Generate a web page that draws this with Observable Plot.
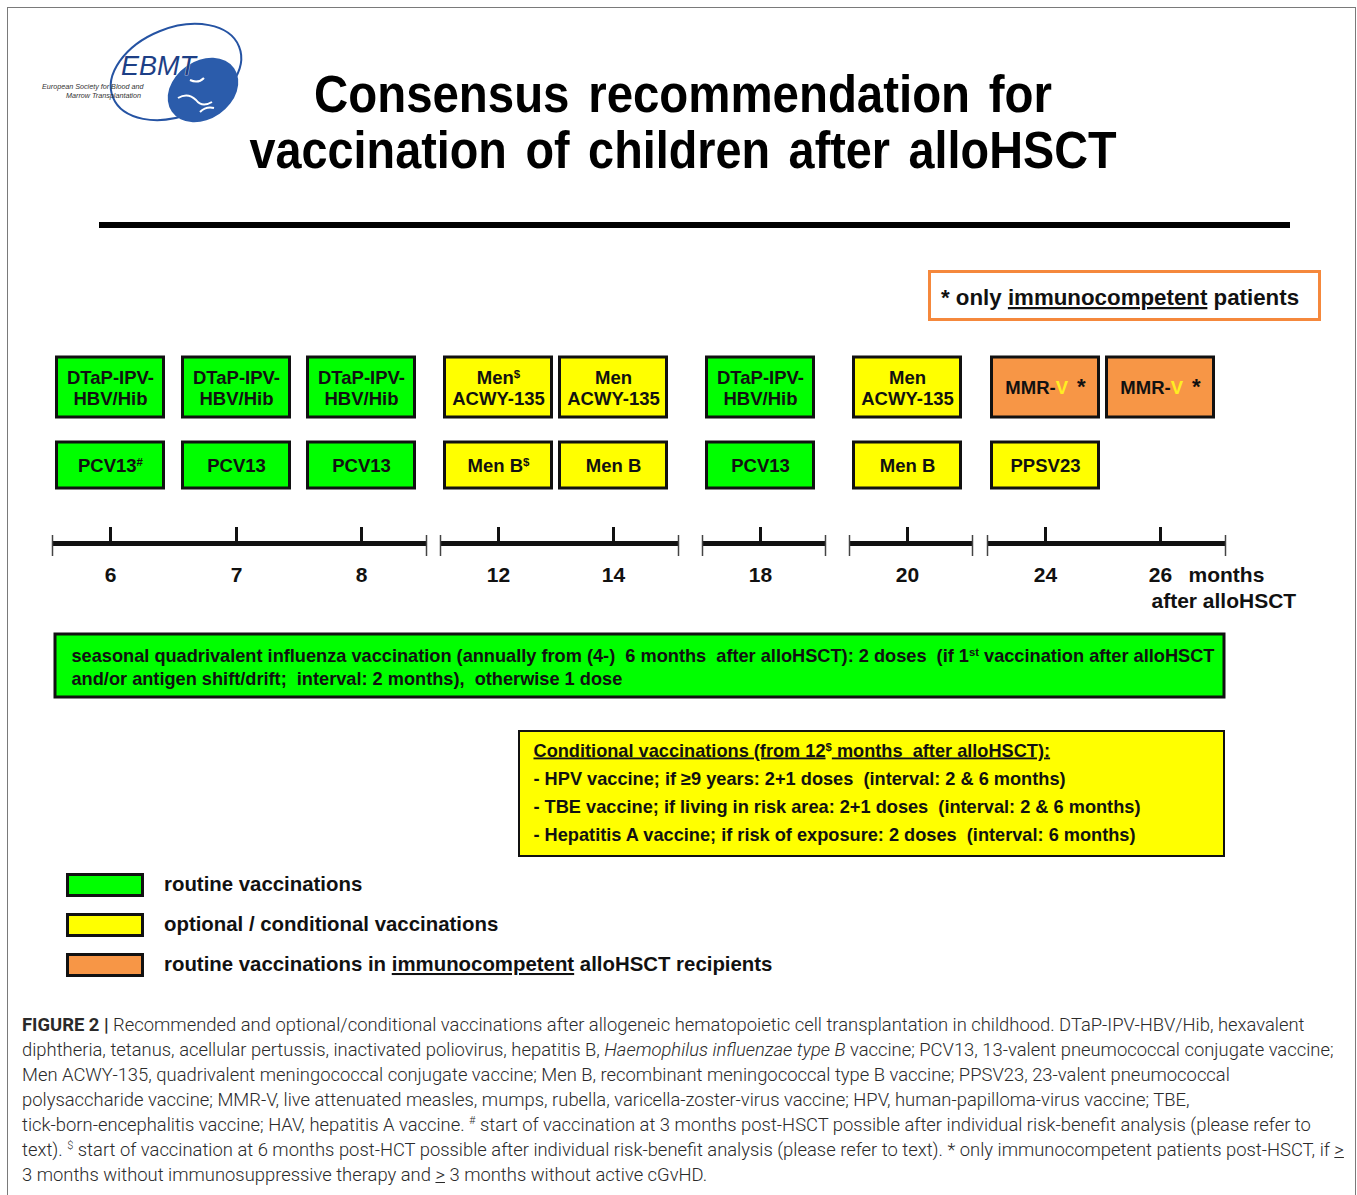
<!DOCTYPE html>
<html>
<head>
<meta charset="utf-8">
<script src="https://cdn.jsdelivr.net/npm/d3@7"></script>
<script src="https://cdn.jsdelivr.net/npm/@observablehq/plot@0.6"></script>
<style>
  html, body { margin: 0; padding: 0; background: #fff; }
  #page { position: relative; width: 1357px; height: 1195px; overflow: hidden; font-family: "Liberation Sans", Arial, sans-serif; }
  #frame { position: absolute; left: 7px; top: 7px; width: 1349px; height: 1300px; border: 1.5px solid #7a7a7a; box-sizing: border-box; }
  #chart, #decor { position: absolute; left: 0; top: 0; }
  #caption { position: absolute; left: 22px; top: 1012px; width: 1330px; font-family: Roboto, "Liberation Sans", sans-serif; font-weight: 300; font-size: 18.4px; line-height: 25px; color: #2a2a2a; white-space: nowrap; }
  #caption b { font-weight: 700; }
  #caption sup { font-size: 11px; line-height: 0; }
</style>
</head>
<body>
<div id="page">
  <div id="frame"></div>
  <div id="chart"></div>
  <svg id="decor" width="1357" height="1000"></svg>
  <div id="caption">
    <b>FIGURE 2 |</b> Recommended and optional/conditional vaccinations after allogeneic hematopoietic cell transplantation in childhood. DTaP-IPV-HBV/Hib, hexavalent<br>
    diphtheria, tetanus, acellular pertussis, inactivated poliovirus, hepatitis B, <i>Haemophilus influenzae type B</i> vaccine; PCV13, 13-valent pneumococcal conjugate vaccine;<br>
    Men ACWY-135, quadrivalent meningococcal conjugate vaccine; Men B, recombinant meningococcal type B vaccine; PPSV23, 23-valent pneumococcal<br>
    polysaccharide vaccine; MMR-V, live attenuated measles, mumps, rubella, varicella-zoster-virus vaccine; HPV, human-papilloma-virus vaccine; TBE,<br>
    tick-born-encephalitis vaccine; HAV, hepatitis A vaccine. <sup>#</sup> start of vaccination at 3 months post-HSCT possible after individual risk-benefit analysis (please refer to<br>
    text). <sup>$</sup> start of vaccination at 6 months post-HCT possible after individual risk-benefit analysis (please refer to text). * only immunocompetent patients post-HSCT, if <u>&gt;</u><br>
    3 months without immunosuppressive therapy and <u>&gt;</u> 3 months without active cGvHD.
  </div>
</div>
<script>
// ---------------- DATA ----------------
const months = [6, 7, 8, 12, 14, 18, 20, 24, 26];
const timelineGroups = [[6, 8], [12, 14], [18, 18], [20, 20], [24, 26]];

const vaccineMonth = [6, 7, 8, 12, 14, 18, 20, 24, 26,
                      6, 7, 8, 12, 14, 18, 20, 24];
const vaccineRow = ["upper", "upper", "upper", "upper", "upper", "upper", "upper", "upper", "upper",
                    "lower", "lower", "lower", "lower", "lower", "lower", "lower", "lower"];
const vaccineLabel = [
  "DTaP-IPV-\nHBV/Hib", "DTaP-IPV-\nHBV/Hib", "DTaP-IPV-\nHBV/Hib",
  "Men^{$}\nACWY-135", "Men\nACWY-135", "DTaP-IPV-\nHBV/Hib", "Men\nACWY-135",
  "MMR-~{V}!{*}", "MMR-~{V}!{*}",
  "PCV13^{#}", "PCV13", "PCV13", "Men B^{$}", "Men B", "PCV13", "Men B", "PPSV23"
];
const vaccineCategory = [
  "routine", "routine", "routine", "optional", "optional", "routine", "optional", "immunocompetent", "immunocompetent",
  "routine", "routine", "routine", "optional", "optional", "routine", "optional", "optional"
];

const categories = ["routine", "optional", "immunocompetent"];
const categoryLabels = [
  "routine vaccinations",
  "optional / conditional vaccinations",
  "routine vaccinations in _{immunocompetent}  alloHSCT recipients"
];
const categoryColors = ["#00ff00", "#ffff00", "#f79646"];

const influenzaLines = [
  "seasonal quadrivalent influenza vaccination (annually from (4-)  6 months  after alloHSCT): 2 doses  (if 1^{st} vaccination after alloHSCT",
  "and/or antigen shift/drift;  interval: 2 months),  otherwise 1 dose"
];
const conditionalHeading = "_{Conditional vaccinations (from 12}^{$}_{ months  after alloHSCT):}";
const conditionalItems = [
  "- HPV vaccine; if \u22659 years: 2+1 doses  (interval: 2 & 6 months)",
  "- TBE vaccine; if living in risk area: 2+1 doses  (interval: 2 & 6 months)",
  "- Hepatitis A vaccine; if risk of exposure: 2 doses  (interval: 6 months)"
];
const timelineUnit = ["months", "after alloHSCT"];

// ---------------- LAYOUT (positions & styles) ----------------
const L = {
  monthX: [110, 236, 361, 498, 613, 760, 907, 1045, 1160],
  rows: {upper: [357, 417], lower: [442, 488]},
  boxHalf: 53.5,
  axisY: 543, tickTop: 527, capTop: 535, capBottom: 556, labelY: 581,
  segLeft: 58, segRight: 65,
  fluY: [634, 697], fluLeft: 55, fluRight: 64, fluText: [661, 684], fluDx: 39,
  condY: [731, 856], condLeft: -21, condTextDx: 35, condBase: 756, condStep: 28,
  ink: "#111"
};

const vaccines = vaccineMonth.map((m, i) => ({
  month: m, row: vaccineRow[i], label: vaccineLabel[i], category: vaccineCategory[i]
}));
const first = months[0], last = months[months.length - 1];
const bold = {fontWeight: "bold", fill: L.ink};

const chart = Plot.plot({
  width: 1357,
  height: 1000,
  margin: 0,
  style: {background: "transparent", fontFamily: "'Liberation Sans', Arial, sans-serif"},
  x: {type: "linear", domain: months, range: L.monthX, axis: null},
  y: {type: "identity", axis: null},
  color: {type: "ordinal", domain: categories, range: categoryColors},
  marks: [
    // vaccine boxes
    Plot.rect(vaccines, {
      x1: "month", x2: "month",
      y1: d => L.rows[d.row][0], y2: d => L.rows[d.row][1],
      insetLeft: -L.boxHalf, insetRight: -L.boxHalf,
      fill: "category", stroke: L.ink, strokeWidth: 3
    }),
    Plot.text(vaccines, {
      x: "month", y: d => (L.rows[d.row][0] + L.rows[d.row][1]) / 2,
      text: "label", fontSize: 18.5, lineHeight: 1.17, ...bold
    }),
    // timeline segments
    Plot.ruleY(timelineGroups, {
      x1: d => d[0], x2: d => d[1], y: L.axisY,
      insetLeft: -L.segLeft, insetRight: -L.segRight, stroke: L.ink, strokeWidth: 5
    }),
    Plot.ruleX(timelineGroups, {x: d => d[0], dx: -L.segLeft, y1: L.capTop, y2: L.capBottom, stroke: "#444", strokeWidth: 1.5}),
    Plot.ruleX(timelineGroups, {x: d => d[1], dx: L.segRight, y1: L.capTop, y2: L.capBottom, stroke: "#444", strokeWidth: 1.5}),
    Plot.ruleX(months, {x: d => d, y1: L.tickTop, y2: L.axisY, stroke: L.ink, strokeWidth: 3}),
    Plot.text(months, {x: d => d, y: L.labelY, text: d => String(d), fontSize: 21, lineAnchor: "bottom", ...bold}),
    Plot.text([timelineUnit[0]], {x: () => last, y: L.labelY, text: d => d, dx: 28, textAnchor: "start", fontSize: 21, lineAnchor: "bottom", ...bold}),
    Plot.text([timelineUnit[1]], {x: () => last, y: L.labelY + 26, text: d => d, dx: -9, textAnchor: "start", fontSize: 21, lineAnchor: "bottom", ...bold}),
    // influenza box
    Plot.rect([{from: first, to: last, category: "routine"}], {
      x1: "from", x2: "to", y1: L.fluY[0], y2: L.fluY[1],
      insetLeft: -L.fluLeft, insetRight: -L.fluRight, fill: "category", stroke: L.ink, strokeWidth: 3
    }),
    Plot.text(influenzaLines, {
      x: () => first, y: (d, i) => L.fluText[i], text: d => d, dx: -L.fluDx,
      textAnchor: "start", lineAnchor: "bottom", fontSize: 18.2, ...bold
    }),
    // conditional box
    Plot.rect([{from: 12, to: last, category: "optional"}], {
      x1: "from", x2: "to", y1: L.condY[0], y2: L.condY[1],
      insetLeft: -L.condLeft, insetRight: -L.fluRight, fill: "category", stroke: L.ink, strokeWidth: 2
    }),
    Plot.text([conditionalHeading, ...conditionalItems], {
      x: () => 12, y: (d, i) => L.condBase + i * L.condStep, text: d => d, dx: L.condTextDx,
      textAnchor: "start", lineAnchor: "bottom", fontSize: 18.2, ...bold
    })
  ]
});
document.getElementById("chart").appendChild(chart);

// rich-text markup: ^{sup}  ~{yellow}  !{asterisk}  _{underline}
const SVGNS = "http://www.w3.org/2000/svg";
function rich(node) {
  const s = node.textContent;
  if (!/[\^~!_]\{/.test(s)) return;
  while (node.firstChild) node.removeChild(node.firstChild);
  const re = /([\^~!_])\{([^}]*)\}/g;
  let lastIdx = 0, m;
  const add = (txt, kind) => {
    const t = document.createElementNS(SVGNS, "tspan");
    t.textContent = txt;
    if (kind === "^") { t.setAttribute("font-size", "0.62em"); t.setAttribute("baseline-shift", "super"); }
    if (kind === "~") { t.setAttribute("fill", "#ffee22"); }
    if (kind === "!") { t.setAttribute("font-size", "1.2em"); t.setAttribute("dx", "9"); }
    if (kind === "_") { t.setAttribute("style", "text-decoration: underline"); }
    node.appendChild(t);
  };
  while ((m = re.exec(s))) {
    if (m.index > lastIdx) add(s.slice(lastIdx, m.index));
    add(m[2], m[1]);
    lastIdx = re.lastIndex;
  }
  if (lastIdx < s.length) add(s.slice(lastIdx));
}
function richAll(root) {
  root.querySelectorAll("text").forEach(t => {
    const spans = t.querySelectorAll(":scope > tspan");
    if (spans.length) spans.forEach(rich); else rich(t);
  });
}
richAll(chart);

// ---------------- decoration: logo, title, rule, note, legend ----------------
const decor = d3.select("#decor");
// logo
const logo = decor.append("g");
logo.append("ellipse").attr("cx", 176).attr("cy", 72).attr("rx", 68).attr("ry", 44)
  .attr("transform", "rotate(-22 176 72)").attr("fill", "none").attr("stroke", "#2553a3").attr("stroke-width", 2);
logo.append("ellipse").attr("cx", 203).attr("cy", 90).attr("rx", 38).attr("ry", 29)
  .attr("transform", "rotate(-35 203 90)").attr("fill", "#2b5cab");
logo.append("path").attr("d", "M178 98 q10 -6 18 2 q6 8 16 2 M190 80 q8 4 14 -2 M200 112 q6 -6 14 -4")
  .attr("fill", "none").attr("stroke", "#fff").attr("stroke-width", 2);
logo.append("text").attr("x", 121).attr("y", 75).attr("font-size", 27).attr("font-style", "italic")
  .attr("font-family", "'Liberation Sans', Arial, sans-serif").attr("fill", "#1d3f86").attr("stroke", "#fff").attr("stroke-width", 0.6)
  .attr("paint-order", "stroke").text("EBMT");
logo.append("text").attr("x", 42).attr("y", 89).attr("font-size", 7.2).attr("font-style", "italic")
  .attr("font-family", "'Liberation Sans', Arial, sans-serif").attr("fill", "#333").text("European Society for Blood and");
logo.append("text").attr("x", 66).attr("y", 98).attr("font-size", 7.2).attr("font-style", "italic")
  .attr("font-family", "'Liberation Sans', Arial, sans-serif").attr("fill", "#333").text("Marrow Transplantation");

// title
const titleLines = ["Consensus recommendation for", "vaccination of children after alloHSCT"];
const titleWidths = [738, 867];
decor.selectAll("text.title").data(titleLines).join("text").attr("class", "title")
  .attr("x", 683).attr("y", (d, i) => 112 + i * 56).attr("text-anchor", "middle")
  .attr("font-family", "'Liberation Sans', Arial, sans-serif").attr("font-weight", "bold")
  .attr("font-size", 51).attr("word-spacing", 6)
  .attr("textLength", (d, i) => titleWidths[i]).attr("lengthAdjust", "spacingAndGlyphs")
  .attr("fill", "#000").text(d => d);
decor.append("rect").attr("x", 99).attr("y", 222).attr("width", 1191).attr("height", 6).attr("fill", "#000");

// note box
decor.append("rect").attr("x", 929.5).attr("y", 271.5).attr("width", 390).attr("height", 48)
  .attr("fill", "#fff").attr("stroke", "#f5883c").attr("stroke-width", 3);
const note = decor.append("text").attr("x", 941).attr("y", 305).attr("font-size", 22.3).attr("font-weight", "bold")
  .attr("font-family", "'Liberation Sans', Arial, sans-serif").attr("fill", "#111");
note.text("* only _{immunocompetent} patients");
rich(note.node());

// legend
const leg = decor.append("g").attr("font-family", "'Liberation Sans', Arial, sans-serif");
categories.forEach((c, i) => {
  leg.append("rect").attr("x", 67.5).attr("y", 874.5 + i * 40).attr("width", 75).attr("height", 21)
    .attr("fill", categoryColors[i]).attr("stroke", "#111").attr("stroke-width", 3);
  const t = leg.append("text").attr("x", 164).attr("y", 891 + i * 40).attr("font-size", 20.4)
    .attr("font-weight", "bold").attr("fill", "#111").text(categoryLabels[i]);
  rich(t.node());
});
</script>
</body>
</html>
